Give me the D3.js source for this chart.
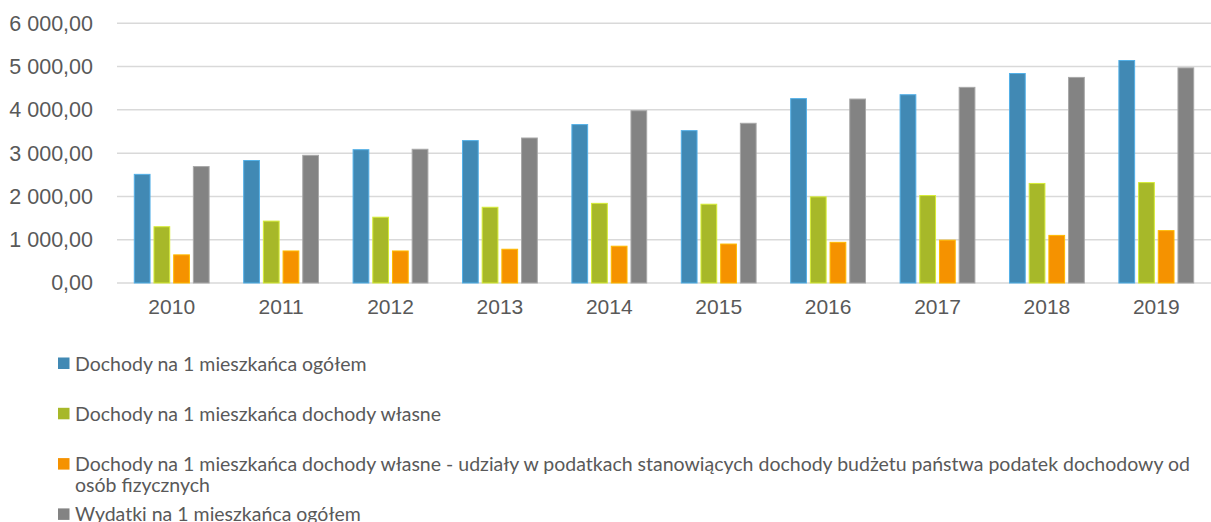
<!DOCTYPE html>
<html lang="pl">
<head>
<meta charset="utf-8">
<title>Dochody i wydatki na 1 mieszkańca 2010-2019</title>
<script src="https://d3js.org/d3.v7.min.js"></script>
<style>
  body { margin: 0; background: #fff; }
  svg { display: block; font-family: Lato, "Open Sans", sans-serif; }
  .tick text { fill: #595959; }
</style>
</head>
<body>
<div id="chart"></div>
<script>
var years = ['2010','2011','2012','2013','2014','2015','2016','2017','2018','2019'];
var seriesNames = [
  'Dochody na 1 mieszkańca ogółem',
  'Dochody na 1 mieszkańca dochody własne',
  'Dochody na 1 mieszkańca dochody własne - udziały w podatkach stanowiących dochody budżetu państwa podatek dochodowy od osób fizycznych',
  'Wydatki na 1 mieszkańca ogółem'
];
var dochodyOgolem = [2510, 2830, 3080, 3290, 3660, 3520, 4260, 4350, 4840, 5140];
var dochodyWlasne = [1300, 1430, 1520, 1750, 1840, 1820, 1990, 2020, 2300, 2320];
var udzialyPit    = [650, 740, 740, 780, 850, 900, 940, 990, 1100, 1210];
var wydatkiOgolem = [2690, 2950, 3090, 3350, 3980, 3690, 4250, 4520, 4750, 4970];
var yTicks = [0, 1000, 2000, 3000, 4000, 5000, 6000];
var colors = ['#4189b4', '#a7b829', '#f59200', '#838383'];

var seriesValues = [dochodyOgolem, dochodyWlasne, udzialyPit, wydatkiOgolem];

var width = 1211, height = 522;
var margin = {left: 117, right: 0, top: 23.3, bottom: 239};

var svg = d3.select('#chart').append('svg')
    .attr('width', width)
    .attr('height', height);

var x0 = d3.scaleBand()
    .domain(years)
    .range([margin.left, width - margin.right])
    .paddingInner(0.28)
    .paddingOuter(0.14);

var x1 = d3.scaleBand()
    .domain(d3.range(seriesNames.length))
    .range([0, x0.bandwidth()])
    .paddingInner(0.2)
    .paddingOuter(0.1);

var y = d3.scaleLinear()
    .domain([0, 6000])
    .range([height - margin.bottom, margin.top]);

var fmt = function(v) {
  return d3.format(',.2f')(v).replace(/,/g, ' ').replace('.', ',');
};

// gridlines
svg.append('g')
    .selectAll('line')
    .data(yTicks)
    .enter().append('line')
    .attr('x1', margin.left)
    .attr('x2', width)
    .attr('y1', function(d) { return y(d); })
    .attr('y2', function(d) { return y(d); })
    .attr('stroke', '#d9d9d9')
    .attr('stroke-width', 1.5);

// y axis labels
var yAxis = d3.axisLeft(y)
    .tickValues(yTicks)
    .tickSize(0)
    .tickPadding(24)
    .tickFormat(fmt);

svg.append('g')
    .attr('transform', 'translate(' + margin.left + ',0)')
    .call(yAxis)
    .call(function(g) { g.select('.domain').remove(); })
    .selectAll('text')
    .style('font-size', '21.5px');

// x axis labels
var xAxis = d3.axisBottom(x0).tickSize(0).tickPadding(16);
svg.append('g')
    .attr('transform', 'translate(0,' + y(0) + ')')
    .call(xAxis)
    .call(function(g) { g.select('.domain').remove(); })
    .selectAll('text')
    .style('font-size', '21px');

// bars
var group = svg.append('g')
    .selectAll('g')
    .data(years)
    .enter().append('g')
    .attr('transform', function(d) { return 'translate(' + x0(d) + ',0)'; });

group.selectAll('rect')
    .data(function(d, i) {
      return seriesValues.map(function(vals, s) { return {s: s, v: vals[i]}; });
    })
    .enter().append('rect')
    .attr('x', function(d) { return x1(d.s); })
    .attr('width', x1.bandwidth())
    .attr('y', function(d) { return y(d.v); })
    .attr('height', function(d) { return y(0) - y(d.v); })
    .attr('fill', function(d) { return colors[d.s]; })
    .attr('stroke', function(d) { return d3.color(colors[d.s]).brighter(0.7); })
    .attr('stroke-width', 1);

// legend
var legendTop = 357.5, legendStep = 50.3, legendX = 58, textX = 75, maxTextW = 1130;
var legend = svg.append('g').style('font-size', '19.5px').attr('fill', '#595959');

seriesNames.forEach(function(name, i) {
  var top = legendTop + i * legendStep;
  legend.append('rect')
      .attr('x', legendX)
      .attr('y', top)
      .attr('width', 11.5)
      .attr('height', 11.5)
      .attr('fill', colors[i]);

  var text = legend.append('text')
      .attr('x', textX)
      .attr('y', top + 13);

  // simple word wrap
  var words = name.split(' ');
  var line = [];
  var tspan = text.append('tspan').attr('x', textX).attr('dy', 0);
  words.forEach(function(w) {
    line.push(w);
    tspan.text(line.join(' '));
    if (tspan.node().getComputedTextLength() > maxTextW && line.length > 1) {
      line.pop();
      tspan.text(line.join(' '));
      line = [w];
      tspan = text.append('tspan').attr('x', textX).attr('dy', 21.3).text(w);
    }
  });
});
</script>
</body>
</html>
